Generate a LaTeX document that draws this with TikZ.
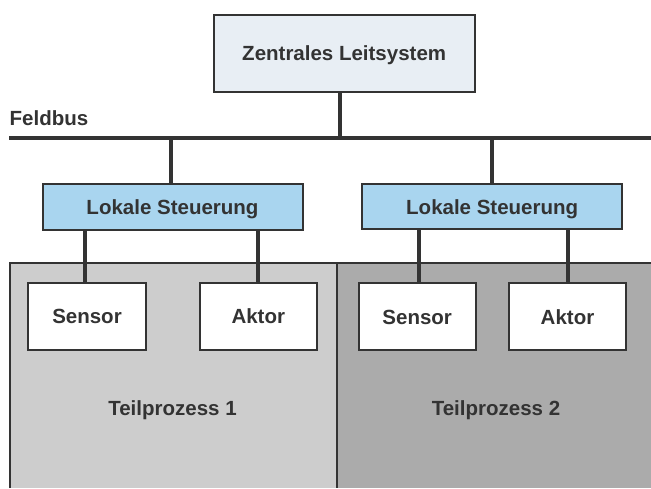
\documentclass[tikz,border=0pt]{standalone}
\usepackage{fontspec}
\setmainfont{Liberation Sans}
\definecolor{ink}{HTML}{333333}
\definecolor{zfill}{HTML}{E8EEF4}
\definecolor{lfill}{HTML}{A9D5EF}
\definecolor{procA}{HTML}{CDCDCD}
\definecolor{procB}{HTML}{ABABAB}
\tikzset{
  lbl/.style={text=ink, inner sep=0pt, font=\bfseries\fontsize{20.5}{24}\selectfont},
  ctext/.style={lbl, text height=14.7pt, text depth=0pt},
  box/.style={ctext, draw=ink, line width=2pt},
  devbox/.style={box, fill=white, minimum width=117.4pt, minimum height=67.3pt},
  ctrlbox/.style={box, fill=lfill, minimum width=260pt, minimum height=45.2pt},
  conn/.style={draw=ink, line width=4pt},
  border/.style={draw=ink, line width=2pt},
}
\begin{document}
\begin{tikzpicture}[x=1pt,y=-1pt]
\useasboundingbox (0,0) rectangle (651,488);
\fill[white] (0,0) rectangle (651,488);
% process regions
\fill[procA] (10,263) rectangle (337,488);
\fill[procB] (337,263) rectangle (651,488);
\coordinate (rA) at (10,488);
\coordinate (rB) at (10,263);
\coordinate (rC) at (651,263);
\coordinate (rD) at (337,263);
\coordinate (rE) at (337,488);
\draw[border] (rA) -- (rB) -- (rC);
\draw[border] (rD) -- (rE);
\node[ctext] (tp1) at (172.5,408) {Teilprozess 1};
\node[ctext] (tp2) at (496,408) {Teilprozess 2};
% central
\node[box, fill=zfill, minimum width=261pt, minimum height=77pt] (zl) at (344.2,53.6) {Zentrales Leitsystem};
% bus
\node[lbl, anchor=base west] (fb) at (9.5,125.5) {Feldbus};
\coordinate (busL) at (9,138);
\coordinate (busR) at (651,138);
\draw[conn] (busL) -- (busR);
\draw[conn] ([xshift=-4.5pt]zl.south) -- ([xshift=-4.5pt]zl.south |- busL);
% local controllers
\node[ctrlbox] (lokA) at (172.5,207) {Lokale Steuerung};
\node[ctrlbox] (lokB) at (492.2,206.7) {Lokale Steuerung};
\draw[conn] ([xshift=-1.5pt]lokA.north) -- ([xshift=-1.5pt]lokA.north |- busL);
\draw[conn] (lokB.north) -- (lokB.north |- busL);
% devices
\node[devbox] (senA) at (87,316.4) {Sensor};
\node[devbox] (aktA) at (258.3,316.4) {Aktor};
\node[devbox] (senB) at (417.2,316.7) {Sensor};
\node[devbox] (aktB) at (567.5,316.7) {Aktor};
\draw[conn] ([xshift=-2pt]senA.north) -- ([xshift=-2pt]senA.north |- lokA.south);
\draw[conn] (aktA.north) -- (aktA.north |- lokA.south);
\draw[conn] ([xshift=1.5pt]senB.north) -- ([xshift=1.5pt]senB.north |- lokB.south);
\draw[conn] (aktB.north) -- (aktB.north |- lokB.south);
\end{tikzpicture}
\end{document}
